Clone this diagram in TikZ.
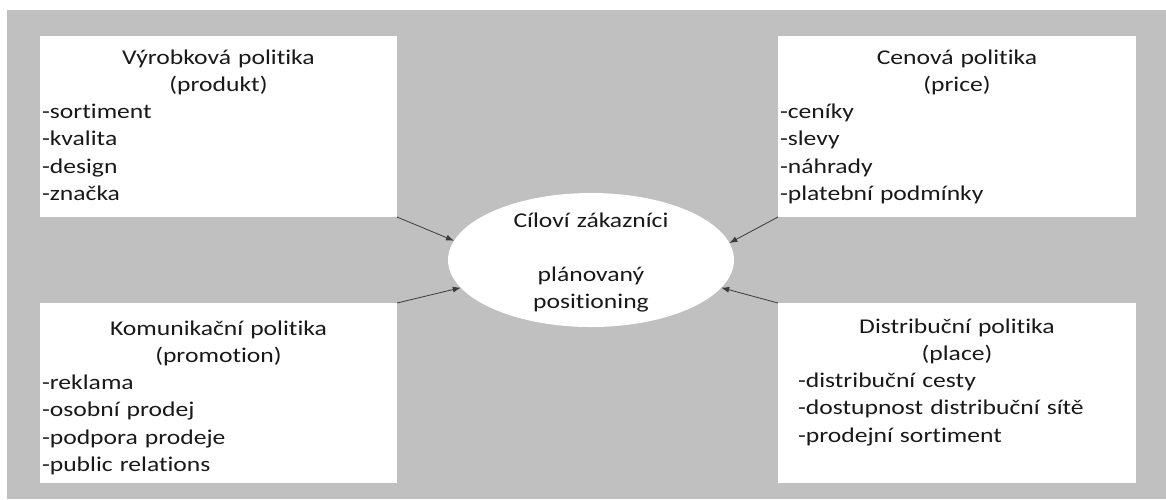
\documentclass[tikz,border=0pt]{standalone}
\usepackage{fontspec}
\setmainfont[Ligatures=NoCommon, FakeStretch=1.22]{Carlito}
\usetikzlibrary{arrows.meta,shapes.geometric}
\definecolor{bggray}{HTML}{C0C0C0}
\definecolor{arrowgray}{HTML}{3A3A3A}
\tikzset{
  panel/.style={fill=white, draw=none, anchor=north west, inner sep=0pt, outer sep=0pt},
  txt/.style={inner sep=0pt, outer sep=0pt, anchor=base west, font=\fontsize{21}{27.3}\selectfont, text=black!90},
  oval/.style={ellipse, fill=white, draw=none, inner sep=0pt, outer sep=0pt, minimum width=286pt, minimum height=134pt},
  link/.style={draw=arrowgray, line width=0.8pt, -{Latex[length=8pt,width=6pt]}}
}
\begin{document}
\begin{tikzpicture}[x=1pt,y=-1pt]
\useasboundingbox (0,0) rectangle (1166,499);
\fill[bggray] (7,10) rectangle (1166,499);

% panels
\node[panel, minimum width=357pt, minimum height=181pt] (b1) at (40,36) {};
\node[panel, minimum width=358pt, minimum height=181pt] (b2) at (778,36) {};
\node[panel, minimum width=357pt, minimum height=180pt] (b3) at (40,303) {};
\node[panel, minimum width=358pt, minimum height=180pt] (b4) at (778,303) {};

% texts
\node[txt, text width=353pt] (t1) at (42,64) {\centering Výrobková politika\\(produkt)\par\raggedright -sortiment\\-kvalita\\-design\\-značka};
\node[txt, text width=354pt] (t2) at (780,64) {\centering Cenová politika\\(price)\par\raggedright -ceníky\\-slevy\\-náhrady\\-platební podmínky};
\node[txt, text width=353pt] (t3) at (42,335) {\centering Komunikační politika\\(promotion)\par\raggedright -reklama\\-osobní prodej\\-podpora prodeje\\-public relations};
\node[txt, text width=318pt] (t4) at (798,333) {\centering Distribuční politika\\(place)\par\raggedright -distribuční cesty\\-dostupnost distribuční sítě\\-prodejní sortiment};

% centre ellipse
\node[oval] (e) at (591,260) {};
\node[txt, anchor=base, text width=260pt] (et) at (591,227) {\centering Cíloví zákazníci\\[27.3pt]plánovaný\\positioning\par};

% connectors
\draw[link] (b1.south east) -- (e.172.6);
\draw[link] (b3.north east) -- (e.192.1);
\draw[link] (b2.south west) -- (e.7.2);
\draw[link] (b4.north west) -- (e.348.4);
\end{tikzpicture}
\end{document}
